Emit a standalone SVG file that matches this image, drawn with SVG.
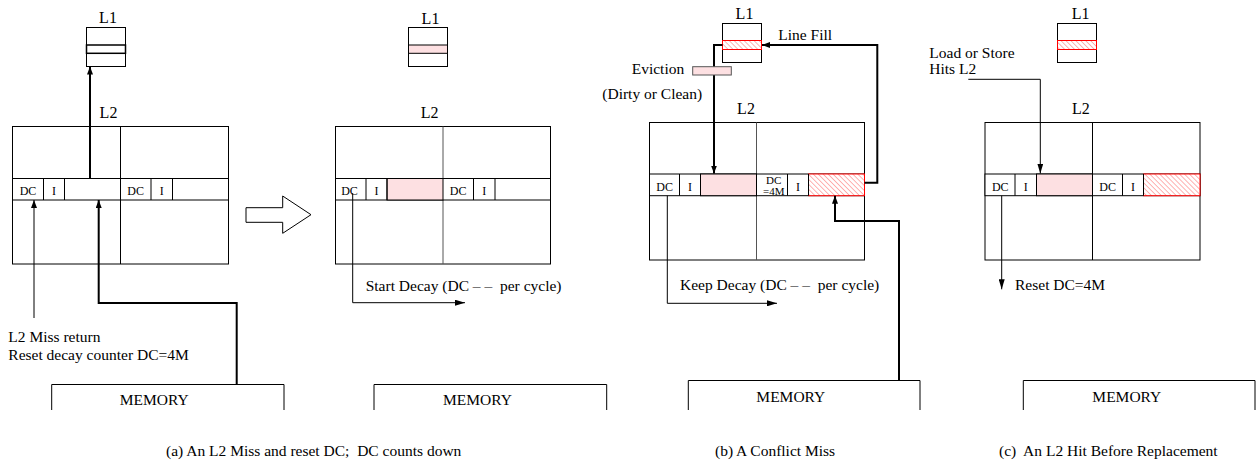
<svg xmlns="http://www.w3.org/2000/svg" width="1257" height="466" viewBox="0 0 1257 466">
<style>
text{font-family:"Liberation Serif","Times New Roman",serif;fill:#000;white-space:pre}
.t{font-size:15.5px}
.lab{font-size:16px;text-anchor:middle}
.cell{font-size:12px;text-anchor:middle}
.cap{font-size:15.5px}
.box{fill:none;stroke:#000;stroke-width:1}
.wbox{fill:#fff;stroke:#000;stroke-width:1}
.mid{stroke:#555;stroke-width:1;fill:none}
.pink{fill:#fde0e2;stroke:#000;stroke-width:1}
.hatch{fill:url(#h);stroke:#f00;stroke-width:1}
.thin{fill:none;stroke:#000;stroke-width:1}
.thick{fill:none;stroke:#000;stroke-width:2}
</style>
<defs>
<pattern id="h" patternUnits="userSpaceOnUse" width="3.5" height="3.5" patternTransform="rotate(-45)">
<rect width="3.5" height="3.5" fill="#fff"/>
<line x1="0" y1="0" x2="0" y2="3.5" stroke="#f55" stroke-width="0.9"/>
</pattern>
<marker id="at" viewBox="0 0 10 6" refX="10" refY="3" markerWidth="10" markerHeight="6" markerUnits="userSpaceOnUse" orient="auto">
<path d="M0,0 L10,3 L0,6 z" fill="#000"/>
</marker>
<marker id="ak" viewBox="0 0 8 6" refX="8" refY="3" markerWidth="8" markerHeight="6" markerUnits="userSpaceOnUse" orient="auto">
<path d="M0,0 L8,3 L0,6 z" fill="#000"/>
</marker>
</defs>

<!-- Panel (a) -->
<g id="a-l1">
<text class="lab" x="108" y="23">L1</text>
<rect class="box" x="86.5" y="27.5" width="39" height="39"/>
<rect class="box" x="86.5" y="45" width="39" height="8.3" style="stroke-width:1.5"/>
</g>
<g id="a-l2">
<text class="lab" x="108.5" y="118">L2</text>
<rect class="box" x="12.5" y="126.5" width="216" height="137.5"/>
<line class="thin" x1="120.5" y1="126.5" x2="120.5" y2="264"/>
<rect class="wbox" x="12.5" y="178.5" width="216" height="21.5"/>
<path class="thin" d="M43.5,178.5V200M64.5,178.5V200M120.5,178.5V200M151,178.5V200M172.5,178.5V200"/>
<text class="cell" x="28" y="195">DC</text>
<text class="cell" x="54" y="195">I</text>
<text class="cell" x="135.7" y="195">DC</text>
<text class="cell" x="161.7" y="195">I</text>
</g>
<g id="a-memory">
<path class="box" d="M51.7,410V384.5H284V410"/>
<text class="t" x="154.2" y="405" text-anchor="middle">MEMORY</text>
</g>
<g id="a-notes">
<text class="t" x="8.3" y="341.5">L2 Miss return</text>
<text class="t" x="8.3" y="360">Reset decay counter DC=4M</text>
</g>
<g id="bigarrow">
<polygon points="246,207.7 282.7,207.7 282.7,196 311,214.7 282.7,233.3 282.7,222.3 246,222.3" fill="#fff" stroke="#000" stroke-width="1"/>
</g>

<!-- Panel (b) -->
<g id="b-l1">
<text class="lab" x="430.5" y="24">L1</text>
<rect class="box" x="408.5" y="27.5" width="39" height="39"/>
<rect class="pink" x="408.5" y="45" width="39" height="8.3"/>
</g>
<g id="b-l2">
<text class="lab" x="429.7" y="118">L2</text>
<rect class="box" x="335.5" y="126.5" width="215" height="137.5"/>
<line class="mid" x1="443" y1="126.5" x2="443" y2="264"/>
<rect class="wbox" x="335.5" y="178.5" width="215" height="21.5"/>
<rect class="pink" x="387" y="178.5" width="56" height="21.5"/>
<path class="thin" d="M366,178.5V200M387,178.5V200M473.5,178.5V200M495,178.5V200"/>
<text class="cell" x="349.5" y="195">DC</text>
<text class="cell" x="376.5" y="195">I</text>
<text class="cell" x="458.2" y="195">DC</text>
<text class="cell" x="484.2" y="195">I</text>
</g>
<g id="b-memory">
<path class="box" d="M374,410V384.5H606.7V410"/>
<text class="t" x="477.5" y="405" text-anchor="middle">MEMORY</text>
</g>
<g id="b-notes">
<text class="t" x="365.7" y="290.5" xml:space="preserve">Start Decay (DC – –  per cycle)</text>
</g>

<!-- Panel (c-conflict) -->
<g id="c-l1">
<text class="lab" x="744.5" y="19.3">L1</text>
<rect class="box" x="722.5" y="23.5" width="39" height="39"/>
<rect class="hatch" x="722.5" y="40.5" width="39" height="9"/>
</g>
<g id="c-l2">
<text class="lab" x="746" y="114.3">L2</text>
<rect class="box" x="649.5" y="122.5" width="215" height="137.5"/>
<line class="mid" x1="756.5" y1="122.5" x2="756.5" y2="260"/>
<rect class="wbox" x="649.5" y="174" width="215" height="21.7"/>
<rect class="pink" x="700.5" y="174" width="56" height="21.7"/>
<rect class="hatch" x="808.5" y="174" width="56" height="21.7"/>
<path class="thin" d="M679.5,174V195.7M700.5,174V195.7M787.5,174V195.7M808.5,174V195.7"/>
<text class="cell" x="664.6" y="191">DC</text>
<text class="cell" x="690" y="191">I</text>
<text class="cell" x="773.7" y="183.5" style="font-size:11px">DC</text>
<text class="cell" x="773.7" y="195" style="font-size:11px">=4M</text>
<text class="cell" x="798" y="191">I</text>
</g>
<g id="c-memory">
<path class="box" d="M688.3,410V380.5H920V410"/>
<text class="t" x="790.8" y="401.7" text-anchor="middle">MEMORY</text>
</g>
<g id="c-notes">
<text class="t" x="778.3" y="40">Line Fill</text>
<text class="t" x="631.7" y="74">Eviction</text>
<text class="t" x="602.3" y="98.5">(Dirty or Clean)</text>
<text class="t" x="680" y="290" xml:space="preserve">Keep Decay (DC – –  per cycle)</text>
</g>

<!-- Panel (d-hit) -->
<g id="d-l1">
<text class="lab" x="1080.7" y="19.3">L1</text>
<rect class="box" x="1057.5" y="23.5" width="39" height="39"/>
<rect class="hatch" x="1057.5" y="40.5" width="39" height="9"/>
</g>
<g id="d-l2">
<text class="lab" x="1080.8" y="114.3">L2</text>
<rect class="box" x="985" y="122.5" width="215" height="137.5"/>
<line class="thin" x1="1092.5" y1="122.5" x2="1092.5" y2="260"/>
<rect class="wbox" x="985" y="174" width="215" height="21.7"/>
<rect class="pink" x="1036.5" y="174" width="56" height="21.7"/>
<rect class="hatch" x="1143.5" y="174" width="56.5" height="21.7"/>
<path class="thin" d="M1015,174V195.7M1036.5,174V195.7M1122.5,174V195.7M1143.5,174V195.7"/>
<text class="cell" x="1000.3" y="191">DC</text>
<text class="cell" x="1025.7" y="191">I</text>
<text class="cell" x="1107.6" y="191">DC</text>
<text class="cell" x="1133" y="191">I</text>
</g>
<g id="d-memory">
<path class="box" d="M1023.3,410V380.5H1255V410"/>
<text class="t" x="1126.8" y="401.7" text-anchor="middle">MEMORY</text>
</g>
<g id="d-notes">
<text class="t" x="929.3" y="57.5">Load or Store</text>
<text class="t" x="929.3" y="74">Hits L2</text>
<text class="t" x="1015" y="290">Reset DC=4M</text>
</g>

<g id="connectors">
<line class="thick" x1="90" y1="178.5" x2="90" y2="66.5" marker-end="url(#ak)"/>
<line class="thin" x1="34" y1="318" x2="34" y2="200" marker-end="url(#ak)"/>
<path class="thick" d="M236.7,384.5V303H98.7V200" marker-end="url(#ak)"/>
<path class="thin" d="M352.7,193V302.7H465" marker-end="url(#at)"/>
<path class="thick" d="M722.5,45H714V173.5" marker-end="url(#ak)"/>
<path class="thick" d="M864.5,182.7H877.3V45H762" marker-end="url(#ak)"/>
<path class="thick" d="M899,380.5V221H835V195.7" marker-end="url(#ak)"/>
<path class="thin" d="M667.3,195.7V303.3H777" marker-end="url(#at)"/>
<path class="thin" d="M968.3,79.3H1040.3V173.5" marker-end="url(#at)"/>
<line class="thin" x1="1001.7" y1="195.7" x2="1001.7" y2="289.3" marker-end="url(#at)"/>
</g>
<g id="evict-box">
<rect x="692.7" y="66.7" width="38.6" height="8.3" fill="#fde0e2" stroke="#555" stroke-width="1"/>
</g>

<g id="captions">
<text class="cap" x="166" y="456" xml:space="preserve">(a) An L2 Miss and reset DC;  DC counts down</text>
<text class="cap" x="715" y="456">(b) A Conflict Miss</text>
<text class="cap" x="999" y="456" xml:space="preserve">(c)  An L2 Hit Before Replacement</text>
</g>
</svg>
